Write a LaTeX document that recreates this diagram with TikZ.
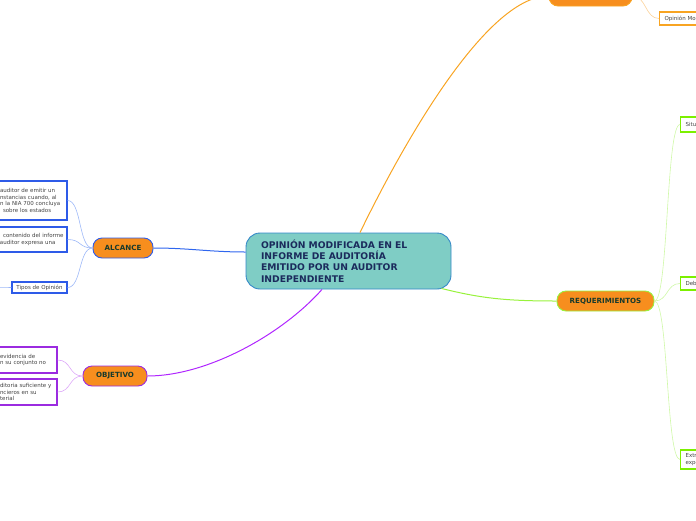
\documentclass[tikz,border=0pt]{standalone}
\usepackage{fontspec}
\setmainfont{DejaVu Sans}
\definecolor{mainf}{HTML}{7FCDC5}
\definecolor{mainb}{HTML}{3488C8}
\definecolor{maint}{HTML}{1B2B5C}
\definecolor{orf}{HTML}{F78E1E}
\definecolor{topt}{HTML}{183A2C}
\definecolor{leaft}{HTML}{444444}
\definecolor{bl}{HTML}{2F66EE}
\definecolor{bll}{HTML}{9DB8F8}
\definecolor{pu}{HTML}{B026FF}
\definecolor{pul}{HTML}{DDA8F8}
\definecolor{og}{HTML}{F8A422}
\definecolor{ogl}{HTML}{FBD29A}
\definecolor{gr}{HTML}{98F23C}
\definecolor{grl}{HTML}{CFF8A8}
\definecolor{grb}{HTML}{7CF000}
\definecolor{blb}{HTML}{2E5BE8}
\definecolor{pub}{HTML}{9B2BE0}
\begin{document}
\begin{tikzpicture}[x=1pt,y=-1pt,
  mainnode/.style={draw=mainb, fill=mainf, line width=0.9pt, rounded corners=14pt,
    minimum width=205pt, minimum height=56pt, inner sep=0pt, text width=175pt, align=left,
    font=\fontsize{9.2}{11.3}\selectfont\bfseries, text=maint},
  topic/.style={fill=orf, rounded corners=9pt, minimum height=20pt, inner sep=0pt,
    line width=0.9pt, font=\fontsize{7.1}{8}\selectfont\bfseries, text=topt},
  leaf/.style={fill=white, line width=1.2pt, inner sep=0pt, align=left,
    font=\fontsize{5.5}{6.7}\selectfont, text=leaft},
  mainlink/.style={line width=1pt},
  leaflink/.style={line width=0.6pt}
]
\useasboundingbox (0,0) rectangle (696,520);
\clip (0,0) rectangle (696,520);

% central
\node[mainnode] (main) at (348.5,261) {OPINIÓN MODIFICADA EN EL\\INFORME DE AUDITORÍA\\EMITIDO POR UN AUDITOR\\INDEPENDIENTE};

% topics
\node[topic, draw=blb, minimum width=60pt] (alc) at (123,248) {ALCANCE};
\node[topic, draw=pub, minimum width=64pt] (obj) at (115,376) {OBJETIVO};
\node[topic, draw=gr, minimum width=97pt] (req) at (605.5,301) {REQUERIMIENTOS};
\node[topic, draw=og, minimum width=83pt] (top) at (590.5,-4) {};

% ALCANCE leaves
\node[leaf, draw=blb, minimum width=72pt, minimum height=39pt, text width=62pt] (a1) at (31,200.5)
  {\mbox{auditor de emitir un}\\\mbox{nstancias cuando, al}\\\mbox{n la NIA 700 concluya}\\\mbox{\hspace*{3pt}sobre los estados}};
\node[leaf, draw=blb, minimum width=72pt, minimum height=25pt, text width=62pt] (a2) at (31,239.5)
  {\mbox{\hspace*{3pt}contenido del informe}\\\mbox{auditor expresa una}\\[2pt]};
\node[leaf, draw=blb, minimum width=55pt, minimum height=11pt, align=center] (a3) at (39.5,287.5) {Tipos de Opinión};
\coordinate (a3l) at (-20,288);

% OBJETIVO leaves
\node[leaf, draw=pub, minimum width=62pt, minimum height=26pt, text width=52pt] (o1) at (26,360)
  {\mbox{evidencia de}\\\mbox{n su conjunto no}};
\node[leaf, draw=pub, minimum width=62pt, minimum height=26pt, text width=52pt] (o2) at (26,392)
  {\mbox{ditoria suficiente y}\\\mbox{ncieros en su}\\\mbox{terial}};

% top leaf
\node[leaf, draw=og, anchor=west, minimum width=90pt, minimum height=13pt, text width=80pt] (t1) at (659,18.5)
  {Opinión Mo};

% REQUERIMIENTOS leaves
\node[leaf, draw=grb, anchor=west, minimum width=90pt, minimum height=15pt, text width=80pt] (r1) at (680,124.5) {Situ};
\node[leaf, draw=grb, anchor=west, minimum width=90pt, minimum height=13pt, text width=80pt] (r2) at (680,283.5) {Deb};
\node[leaf, draw=grb, anchor=west, minimum width=90pt, minimum height=19pt, text width=80pt] (r3) at (680,459.5) {Extr\\expo};

% main links
\draw[mainlink, bl] (alc.east) to[out=0,in=180] ([yshift=9pt]main.west);
\draw[mainlink, pu] ([xshift=-26.5pt]main.south) .. controls +(-40,45) and +(60,0) .. (obj.east);
\draw[mainlink, og] ([xshift=11.5pt]main.north) .. controls +(50,-103) and +(-59,0) .. (top.west);
\draw[mainlink, gr] ([xshift=-10pt,yshift=1pt]main.south east) .. controls +(40,10) and +(-50,0) .. (req.west);

% leaf links
\foreach \n in {a1,a2,a3}{\draw[leaflink, bll] (alc.west) .. controls +(-14,0) and +(14,0) .. (\n.east);}
\draw[leaflink, bll] (a3.west) -- (a3l);
\foreach \n in {o1,o2}{\draw[leaflink, pul] (obj.west) .. controls +(-14,0) and +(14,0) .. (\n.east);}
\draw[leaflink, ogl] (top.east) .. controls +(14,0) and +(-14,0) .. (t1.west);
\foreach \n in {r1,r2,r3}{\draw[leaflink, grl] (req.east) .. controls +(14,0) and +(-14,0) .. (\n.west);}
\end{tikzpicture}
\end{document}
